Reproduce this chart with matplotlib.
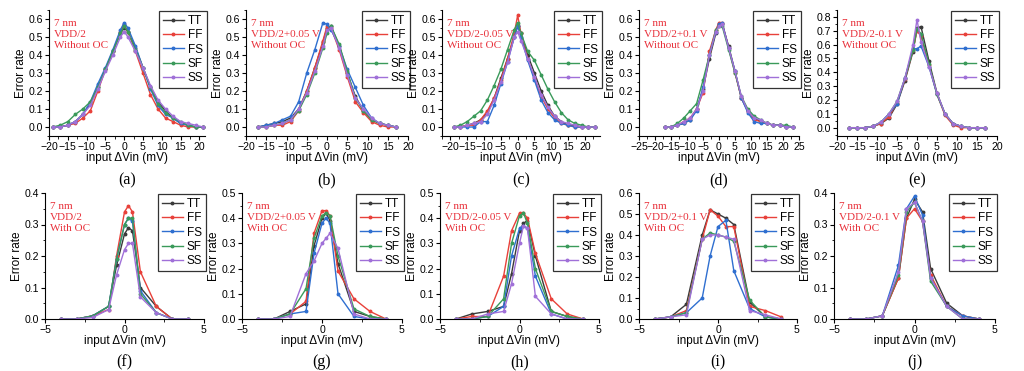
import numpy as np
import matplotlib.pyplot as plt
from matplotlib.ticker import AutoMinorLocator

plt.rcParams["font.family"] = ["Liberation Sans", "DejaVu Sans"]

corners = ["TT", "FF", "FS", "SF", "SS"]
colors = {"TT": "#3a3a3a", "FF": "#e8413a", "FS": "#2f6fd0", "SF": "#3a9a5a", "SS": "#a070d8"}

# ---- without OC (top row) ----
x_a = [-19, -17, -15, -13, -11, -9, -7, -5, -3, -1, 0, 1, 3, 5, 7, 9, 11, 13, 15, 17, 19, 21]
a_TT = [0, 0, 0.01, 0.03, 0.07, 0.13, 0.22, 0.32, 0.42, 0.52, 0.55, 0.53, 0.44, 0.33, 0.22, 0.14, 0.09, 0.05, 0.02, 0.01, 0.0, 0]
a_FF = [0, 0, 0.01, 0.02, 0.05, 0.09, 0.20, 0.32, 0.42, 0.53, 0.57, 0.53, 0.42, 0.30, 0.18, 0.10, 0.05, 0.03, 0.01, 0.0, 0, 0]
a_FS = [0, 0, 0.01, 0.03, 0.07, 0.14, 0.24, 0.33, 0.43, 0.54, 0.58, 0.55, 0.45, 0.33, 0.21, 0.12, 0.07, 0.05, 0.02, 0.01, 0, 0]
a_SF = [0, 0.01, 0.03, 0.07, 0.10, 0.14, 0.22, 0.32, 0.42, 0.52, 0.56, 0.53, 0.43, 0.33, 0.22, 0.13, 0.08, 0.05, 0.03, 0.01, 0, 0]
a_SS = [0, 0, 0.01, 0.03, 0.07, 0.12, 0.21, 0.31, 0.40, 0.50, 0.53, 0.50, 0.42, 0.33, 0.23, 0.15, 0.10, 0.06, 0.03, 0.02, 0.01, 0]

x_b = [-17, -15, -13, -11, -9, -7, -5, -3, -1, 0, 1, 3, 5, 7, 9, 11, 13, 15, 17]
b_TT = [0, 0.01, 0.02, 0.03, 0.05, 0.10, 0.20, 0.33, 0.47, 0.55, 0.56, 0.45, 0.30, 0.17, 0.09, 0.04, 0.02, 0.01, 0]
b_FF = [0, 0, 0.01, 0.01, 0.03, 0.09, 0.20, 0.33, 0.48, 0.56, 0.55, 0.43, 0.28, 0.14, 0.08, 0.03, 0.01, 0, 0]
b_FS = [0, 0.01, 0.02, 0.04, 0.06, 0.14, 0.30, 0.43, 0.58, 0.57, 0.54, 0.45, 0.32, 0.22, 0.12, 0.05, 0.02, 0.01, 0]
b_SF = [0, 0, 0.01, 0.02, 0.04, 0.09, 0.18, 0.30, 0.44, 0.52, 0.56, 0.46, 0.31, 0.16, 0.09, 0.04, 0.02, 0.01, 0]
b_SS = [0, 0, 0.01, 0.02, 0.04, 0.10, 0.19, 0.31, 0.45, 0.54, 0.55, 0.44, 0.29, 0.16, 0.10, 0.05, 0.02, 0.01, 0]

x_c = [-19, -17, -15, -13, -11, -9, -7, -5, -3, -1, 0, 1, 3, 5, 7, 9, 11, 13, 15, 17, 19, 21, 23]
c_TT = [0, 0, 0.01, 0.02, 0.04, 0.08, 0.16, 0.27, 0.38, 0.50, 0.56, 0.52, 0.40, 0.30, 0.20, 0.12, 0.06, 0.03, 0.01, 0.01, 0, 0, 0]
c_FF = [0, 0, 0.01, 0.01, 0.04, 0.09, 0.16, 0.26, 0.38, 0.52, 0.62, 0.52, 0.38, 0.27, 0.17, 0.10, 0.05, 0.02, 0.01, 0, 0, 0, 0]
c_FS = [0, 0, 0, 0, 0.03, 0.03, 0.12, 0.24, 0.36, 0.50, 0.56, 0.50, 0.37, 0.26, 0.15, 0.08, 0.04, 0.02, 0.01, 0, 0, 0, 0]
c_SF = [0, 0.01, 0.03, 0.06, 0.09, 0.15, 0.23, 0.32, 0.43, 0.54, 0.58, 0.52, 0.42, 0.37, 0.29, 0.21, 0.14, 0.08, 0.04, 0.02, 0.01, 0, 0]
c_SS = [0, 0, 0.01, 0.02, 0.03, 0.07, 0.15, 0.25, 0.36, 0.50, 0.53, 0.48, 0.38, 0.28, 0.18, 0.11, 0.06, 0.03, 0.02, 0.01, 0, 0, 0]

x_d = [-17, -15, -13, -11, -9, -7, -5, -3, -1, 0, 1, 3, 5, 7, 9, 11, 13, 15, 17, 19, 21, 23]
d_TT = [0, 0, 0.01, 0.02, 0.04, 0.10, 0.21, 0.38, 0.52, 0.57, 0.57, 0.45, 0.31, 0.16, 0.09, 0.05, 0.03, 0.02, 0.01, 0.01, 0, 0]
d_FF = [0, 0, 0.01, 0.03, 0.05, 0.10, 0.19, 0.42, 0.54, 0.58, 0.58, 0.44, 0.30, 0.16, 0.09, 0.04, 0.03, 0.02, 0.01, 0.01, 0, 0]
d_FS = [0, 0, 0.01, 0.02, 0.04, 0.09, 0.22, 0.40, 0.53, 0.57, 0.58, 0.44, 0.31, 0.16, 0.08, 0.03, 0.02, 0.02, 0.01, 0.01, 0, 0]
d_SF = [0, 0, 0.02, 0.05, 0.09, 0.13, 0.26, 0.40, 0.54, 0.56, 0.56, 0.43, 0.30, 0.17, 0.10, 0.06, 0.04, 0.02, 0.01, 0.01, 0.01, 0]
d_SS = [0, 0, 0.01, 0.03, 0.05, 0.10, 0.20, 0.40, 0.53, 0.56, 0.57, 0.44, 0.31, 0.17, 0.09, 0.05, 0.04, 0.02, 0.01, 0.01, 0, 0]

x_e = [-17, -15, -13, -11, -9, -7, -5, -3, -1, 0, 1, 3, 5, 7, 9, 11, 13, 15, 17]
e_TT = [0, 0, 0, 0.01, 0.03, 0.07, 0.17, 0.34, 0.55, 0.72, 0.73, 0.48, 0.25, 0.10, 0.03, 0.01, 0, 0, 0]
e_FF = [0, 0, 0, 0.01, 0.03, 0.08, 0.18, 0.35, 0.56, 0.70, 0.66, 0.45, 0.24, 0.09, 0.02, 0, 0, 0, 0]
e_FS = [0, 0, 0, 0.01, 0.04, 0.10, 0.17, 0.36, 0.57, 0.57, 0.59, 0.44, 0.24, 0.10, 0.03, 0.01, 0, 0, 0]
e_SF = [0, 0, 0, 0.01, 0.04, 0.10, 0.19, 0.36, 0.56, 0.71, 0.68, 0.46, 0.24, 0.10, 0.03, 0.01, 0, 0, 0]
e_SS = [0, 0, 0, 0.01, 0.04, 0.10, 0.19, 0.36, 0.60, 0.78, 0.62, 0.44, 0.25, 0.10, 0.03, 0.01, 0, 0, 0]

# ---- with OC (bottom row) ----
x_f = [-4, -3, -2, -1, -0.5, 0, 0.25, 0.5, 1, 2, 3, 4]
f_TT = [0, 0, 0.01, 0.04, 0.17, 0.27, 0.29, 0.28, 0.10, 0.04, 0.0, 0]
f_FF = [0, 0, 0.01, 0.03, 0.20, 0.34, 0.36, 0.34, 0.15, 0.04, 0.0, 0]
f_FS = [0, 0, 0.01, 0.04, 0.19, 0.30, 0.32, 0.31, 0.09, 0.02, 0, 0]
f_SF = [0, 0, 0.01, 0.04, 0.19, 0.30, 0.32, 0.32, 0.08, 0.02, 0, 0]
f_SS = [0, 0, 0.005, 0.03, 0.14, 0.22, 0.24, 0.24, 0.07, 0.02, 0, 0]

x_g = [-4, -3, -2, -1, -0.5, 0, 0.25, 0.5, 1, 2, 3, 4]
g_TT = [0, 0, 0.03, 0.06, 0.29, 0.40, 0.42, 0.39, 0.22, 0.03, 0.01, 0]
g_FF = [0, 0, 0.02, 0.07, 0.34, 0.43, 0.43, 0.41, 0.19, 0.08, 0.03, 0]
g_FS = [0, 0, 0.02, 0.03, 0.26, 0.38, 0.40, 0.38, 0.10, 0.01, 0, 0]
g_SF = [0, 0, 0.02, 0.12, 0.32, 0.41, 0.42, 0.41, 0.25, 0.04, 0.01, 0]
g_SS = [0, 0, 0.01, 0.18, 0.23, 0.30, 0.32, 0.34, 0.28, 0.02, 0, 0]

x_h = [-4, -3, -2, -1, -0.5, 0, 0.25, 0.5, 1, 2, 3, 4]
h_TT = [0, 0.02, 0.03, 0.05, 0.18, 0.35, 0.38, 0.39, 0.25, 0.03, 0.01, 0]
h_FF = [0, 0.01, 0.01, 0.17, 0.35, 0.42, 0.42, 0.40, 0.26, 0.08, 0.02, 0]
h_FS = [0, 0, 0.01, 0.05, 0.25, 0.36, 0.37, 0.36, 0.17, 0.02, 0, 0]
h_SF = [0, 0, 0.01, 0.08, 0.30, 0.41, 0.42, 0.38, 0.20, 0.03, 0.01, 0]
h_SS = [0, 0, 0.02, 0.03, 0.14, 0.30, 0.37, 0.36, 0.09, 0.02, 0, 0]

x_i = [-4, -3, -2, -1, -0.5, 0, 0.5, 1, 2, 3, 4]
i_TT = [0, 0.01, 0.07, 0.40, 0.52, 0.50, 0.48, 0.45, 0.08, 0.01, 0]
i_FF = [0, 0.01, 0.04, 0.38, 0.52, 0.49, 0.44, 0.44, 0.06, 0.04, 0.01]
i_FS = [0, 0.01, 0.03, 0.10, 0.30, 0.44, 0.47, 0.23, 0.05, 0.01, 0]
i_SF = [0, 0.01, 0.03, 0.38, 0.41, 0.40, 0.39, 0.37, 0.09, 0.01, 0]
i_SS = [0, 0.01, 0.02, 0.38, 0.40, 0.40, 0.39, 0.38, 0.04, 0.02, 0]

x_j = [-4, -3, -2, -1, -0.5, 0, 0.5, 1, 2, 3, 4]
j_TT = [0, 0, 0.01, 0.13, 0.32, 0.38, 0.34, 0.16, 0.05, 0.01, 0]
j_FF = [0, 0, 0.01, 0.13, 0.32, 0.35, 0.31, 0.14, 0.04, 0.01, 0]
j_FS = [0, 0, 0.01, 0.17, 0.35, 0.39, 0.33, 0.13, 0.04, 0.01, 0]
j_SF = [0, 0, 0.01, 0.14, 0.34, 0.37, 0.31, 0.12, 0.04, 0, 0]
j_SS = [0, 0, 0.01, 0.15, 0.35, 0.37, 0.31, 0.13, 0.04, 0, 0]

panels = [
    ("a", x_a, [a_TT, a_FF, a_FS, a_SF, a_SS], "VDD/2", "Without OC"),
    ("b", x_b, [b_TT, b_FF, b_FS, b_SF, b_SS], "VDD/2+0.05 V", "Without OC"),
    ("c", x_c, [c_TT, c_FF, c_FS, c_SF, c_SS], "VDD/2-0.05 V", "Without OC"),
    ("d", x_d, [d_TT, d_FF, d_FS, d_SF, d_SS], "VDD/2+0.1 V", "Without OC"),
    ("e", x_e, [e_TT, e_FF, e_FS, e_SF, e_SS], "VDD/2-0.1 V", "Without OC"),
    ("f", x_f, [f_TT, f_FF, f_FS, f_SF, f_SS], "VDD/2", "With OC"),
    ("g", x_g, [g_TT, g_FF, g_FS, g_SF, g_SS], "VDD/2+0.05 V", "With OC"),
    ("h", x_h, [h_TT, h_FF, h_FS, h_SF, h_SS], "VDD/2-0.05 V", "With OC"),
    ("i", x_i, [i_TT, i_FF, i_FS, i_SF, i_SS], "VDD/2+0.1 V", "With OC"),
    ("j", x_j, [j_TT, j_FF, j_FS, j_SF, j_SS], "VDD/2-0.1 V", "With OC"),
]

# axes geometry in pixels (left, right) and limits
W, H = 1024, 371
lefts = [49, 246, 442, 639, 837, 45, 242, 440, 639, 834]
rights = [205, 408, 600, 799, 997, 204, 402, 599, 797, 995]
xlims = [(-20, 21.5), (-20, 20), (-22.5, 24.5), (-25, 25), (-20, 20)] + [(-5, 5)] * 5
xticks = [np.arange(-20, 21, 5), np.arange(-20, 21, 5), np.arange(-20, 21, 5),
          np.arange(-25, 26, 5), np.arange(-20, 21, 5)] + [[-5, 0, 5]] * 5
ylims = [(-0.05, 0.65)] * 4 + [(-0.06, 0.85), (0, 0.4), (0, 0.5), (0, 0.5), (0, 0.6), (0, 0.4)]
yticks = [np.arange(0, 0.61, 0.1)] * 4 + [np.arange(0, 0.81, 0.1), np.arange(0, 0.41, 0.1),
          np.arange(0, 0.51, 0.1), np.arange(0, 0.51, 0.1), np.arange(0, 0.61, 0.1),
          np.arange(0, 0.41, 0.1)]

fig = plt.figure(figsize=(W / 100, H / 100), dpi=100)
red = "#e8303a"

for k, (tag, xs, series, cond, oc) in enumerate(panels):
    top_row = k < 5
    y_top, y_bot = (10, 136) if top_row else (193, 319)
    ax = fig.add_axes([lefts[k] / W, 1 - y_bot / H, (rights[k] - lefts[k]) / W, (y_bot - y_top) / H])
    for name, ys in zip(corners, series):
        ax.plot(xs, ys, color=colors[name], lw=1.0, marker="o", ms=1.8, label=name)
    ax.set_xlim(*xlims[k])
    ax.set_ylim(*ylims[k])
    ax.set_xticks(xticks[k])
    ax.set_yticks(yticks[k])
    ax.set_yticklabels([f"{v:.1f}" for v in yticks[k]])
    ax.xaxis.set_minor_locator(AutoMinorLocator(2))
    ax.yaxis.set_minor_locator(AutoMinorLocator(2))
    ax.spines["top"].set_visible(False)
    ax.spines["right"].set_visible(False)
    ax.tick_params(labelsize=7.6, length=3, width=0.8, pad=1.5)
    ax.tick_params(which="minor", length=1.8, width=0.6)
    ax.set_xlabel("input ΔVin (mV)", fontsize=8.5, labelpad=0)
    ax.set_ylabel("Error rate", fontsize=8.5, labelpad=1)
    ax.text(0.03, 0.93, f"7 nm\n{cond}\n{oc}", transform=ax.transAxes, color=red,
            fontsize=8, family="Liberation Serif", va="top", ha="left", linespacing=1.3)
    leg = ax.legend(loc="upper right", bbox_to_anchor=(1.01, 0.99), fontsize=8.5, frameon=True,
                    fancybox=False, edgecolor="black", handlelength=1.8, handletextpad=0.3,
                    labelspacing=0.2, borderpad=0.3, borderaxespad=0.0)
    leg.get_frame().set_linewidth(0.9)
    cx = (lefts[k] + rights[k]) / 2 / W
    cy = 1 - (180 if top_row else 362) / H
    fig.text(cx, cy, f"({tag})", ha="center", va="center", fontsize=11.5, family="Liberation Serif")

fig.savefig("out.png", dpi=100)
